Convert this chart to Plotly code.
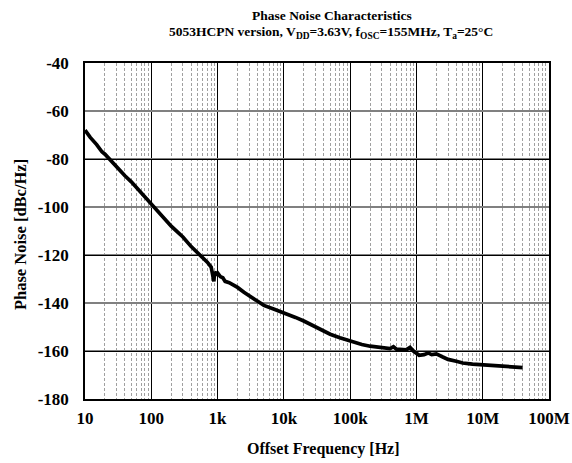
import plotly.graph_objects as go

freq_hz = [10, 12, 15, 18, 20, 25, 30, 35, 40, 50, 60, 70, 80, 90, 100, 120, 150, 200, 250, 300,
           400, 500, 600, 700, 800, 850, 880, 900, 950, 1000, 1100, 1200, 1300, 1500, 2000, 2500,
           3000, 4000, 5000, 7000, 10000, 15000, 20000, 30000, 50000, 70000, 100000, 150000,
           200000, 300000, 400000, 450000, 500000, 700000, 800000, 900000, 1100000, 1300000,
           1500000, 1700000, 2000000, 2500000, 3000000, 4000000, 5000000, 7000000, 10000000,
           15000000, 20000000, 30000000, 40000000]
phase_noise = [-68, -71, -74, -77, -78, -81, -83.5, -85, -87, -89.5, -92, -94, -96, -97.5, -99,
               -101.5, -104.5, -108, -110.5, -112.5, -116.5, -119, -121, -123, -125, -129, -131,
               -127, -128, -127.5, -129, -129.5, -131, -131.5, -133.5, -135.5, -137, -139.5, -141,
               -142.5, -144, -146, -147.5, -150, -153, -154.5, -156, -157.3, -158, -158.6, -159,
               -158.2, -159.2, -159.5, -158.5, -160, -161.8, -161.5, -160.8, -161.5, -161.2, -162.5,
               -163.5, -164.3, -165, -165.5, -165.8, -166.2, -166.6, -166.8, -166.9]

x_tickvals = [10, 100, 1e3, 1e4, 1e5, 1e6, 1e7, 1e8]
x_ticktext = ["10", "100", "1k", "10k", "100k", "1M", "10M", "100M"]
y_tickvals = [-40, -60, -80, -100, -120, -140, -160, -180]
y_black_grid = [-80, -120, -160]

title_line1 = "Phase Noise Characteristics"
title_line2 = "5053HCPN version, V<sub>DD</sub>=3.63V, f<sub>OSC</sub>=155MHz, T<sub>a</sub>=25°C"
x_title = "Offset Frequency [Hz]"
y_title = "Phase Noise [dBc/Hz]"

font_family = "Liberation Serif, Times New Roman, serif"

fig = go.Figure()
fig.add_trace(go.Scatter(x=freq_hz, y=phase_noise, mode="lines",
                         line=dict(color="black", width=3.7), showlegend=False))
fig.add_trace(go.Scatter(x=[freq_hz[0]], y=[phase_noise[0]], yaxis="y2", mode="lines",
                         line=dict(width=0), hoverinfo="skip", showlegend=False))

annotations = [
    dict(text="<b>%s</b>" % title_line1, xref="paper", yref="paper", x=0.532, y=1.142,
         xanchor="center", yanchor="middle", showarrow=False, font=dict(size=13.5)),
    dict(text="<b>%s</b>" % title_line2, xref="paper", yref="paper", x=0.53, y=1.09,
         xanchor="center", yanchor="middle", showarrow=False, font=dict(size=13.5)),
    dict(text="<b>%s</b>" % x_title, xref="paper", yref="paper", x=0.515, y=-0.149,
         xanchor="center", yanchor="middle", showarrow=False, font=dict(size=16)),
    dict(text="<b>%s</b>" % y_title, xref="paper", yref="paper", x=-0.14, y=0.488,
         xanchor="center", yanchor="middle", showarrow=False, textangle=-90,
         font=dict(size=16.5)),
]

fig.update_layout(
    width=572, height=463,
    margin=dict(l=85, r=23, t=63, b=64),
    paper_bgcolor="white", plot_bgcolor="white",
    font=dict(family=font_family, color="black", size=13),
    annotations=annotations,
    xaxis=dict(
        type="log", range=[1, 8], automargin=False,
        tickvals=x_tickvals, ticktext=["<b>%s</b>" % t for t in x_ticktext],
        tickfont=dict(size=17), ticklabelstandoff=3,
        showgrid=True, gridcolor="black", gridwidth=1.2,
        showline=True, linecolor="black", linewidth=1.5, mirror=True,
        ticks="", zeroline=False,
        minor=dict(dtick="D1", showgrid=True, gridcolor="#a0a0a0", griddash="3px,2px",
                   gridwidth=1, ticks=""),
    ),
    yaxis=dict(
        range=[-180, -40], tickvals=y_tickvals, automargin=False,
        ticktext=["<b>%d</b>" % v for v in y_tickvals],
        tickfont=dict(size=17),
        showgrid=True, gridcolor="#808080", gridwidth=1.6,
        showline=True, linecolor="black", linewidth=1.5, mirror=True,
        ticks="", zeroline=False, ticklabelstandoff=11,
    ),
    yaxis2=dict(
        overlaying="y", range=[-180, -40], tickvals=y_black_grid, automargin=False,
        showticklabels=False, showgrid=True, gridcolor="black", gridwidth=1.2,
        zeroline=False, ticks="",
    ),
)

fig.write_html("out.html", config={"displayModeBar": False},
               post_script="document.body.style.margin='0';document.body.style.overflow='hidden';")
